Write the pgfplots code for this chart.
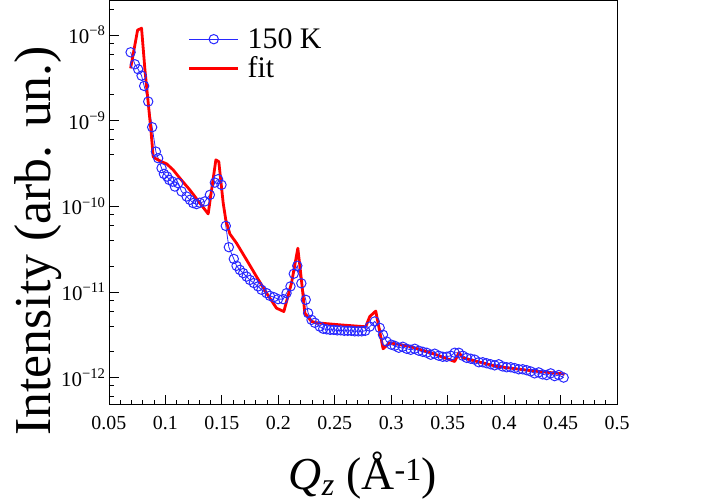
\documentclass[border=0pt]{standalone}
\usepackage{fontspec}
\setmainfont{Liberation Serif}
\usepackage{pgfplots}
\pgfplotsset{compat=1.18}

\definecolor{dblue}{RGB}{40,40,255}

\begin{document}
\begin{tikzpicture}
\path[use as bounding box] (-109bp,-97bp) rectangle (599.5bp,405bp);
\begin{axis}[
  scale only axis, width=508.5bp, height=405bp,
  ymode=log,
  xmin=0.05, xmax=0.5, ymin=4.82e-13, ymax=2.56e-8,
  xtick={0.05,0.1,0.15,0.2,0.25,0.3,0.35,0.4,0.45,0.5},
  xticklabels={0.05,0.1,0.15,0.2,0.25,0.3,0.35,0.4,0.45,0.5},
  minor x tick num=4,
  ytick={1e-12,1e-11,1e-10,1e-9,1e-8},
  yticklabels={10\textsuperscript{−12},10\textsuperscript{−11},10\textsuperscript{−10},10\textsuperscript{−9},10\textsuperscript{−8}},
  minor ytick={6e-13,8e-13,2e-12,4e-12,6e-12,8e-12,2e-11,4e-11,6e-11,8e-11,2e-10,4e-10,6e-10,8e-10,2e-9,4e-9,6e-9,8e-9,2e-8},
  xtick pos=bottom, ytick pos=left, tick align=inside,
  major tick length=10bp, minor tick length=5bp,
  axis line style={line width=0.8bp},
  every tick/.style={black, line width=0.8bp},
  xticklabel style={font=\fontsize{20}{23}\selectfont, anchor=base, yshift=-25bp},
  yticklabel style={font=\fontsize{21}{24}\selectfont},
  xlabel={{\itshape Q\textsubscript{z}} (Å\textsuperscript{-1})},
  ylabel={Intensity (arb. un.)},
  xlabel style={font=\fontsize{46}{50}\selectfont, at={(axis description cs:0.5,0)}, anchor=base, yshift=-85bp},
  ylabel style={font=\fontsize{52}{56}\selectfont, at={(axis description cs:-0.114,0.405)}, anchor=base},
  legend image code/.code={\draw[mark repeat=2,mark phase=2,#1] plot coordinates {(0bp,0bp) (24.5bp,0bp) (49bp,0bp)};},
  legend style={at={(rel axis cs:0.155,0.935)}, anchor=north west, draw=none, fill=none,
    font=\fontsize{30}{32}\selectfont, inner sep=0pt, row sep=3bp, column sep=6bp,
    nodes={inner sep=2bp}},
  legend cell align=left,
]
\addplot[dblue, line width=0.8bp, mark=o, mark size=4.7bp, mark options={line width=1bp}] coordinates {
(0.0692,6.28e-9) (0.0730,4.55e-9) (0.0759,3.98e-9) (0.0789,3.35e-9) (0.0812,2.54e-9)
(0.0848,1.67e-9) (0.0883,8.38e-10) (0.0916,4.35e-10) (0.0936,3.64e-10) (0.0966,2.79e-10)
(0.0987,2.39e-10) (0.1016,2.22e-10) (0.1034,2.03e-10) (0.1064,1.94e-10) (0.1084,1.70e-10)
(0.1113,1.86e-10) (0.1143,1.49e-10) (0.1188,1.30e-10) (0.1217,1.19e-10) (0.1246,1.09e-10)
(0.1276,1.06e-10) (0.1305,1.10e-10) (0.1350,1.14e-10) (0.1394,1.36e-10) (0.1438,1.89e-10)
(0.1467,2.07e-10) (0.1497,1.78e-10) (0.1535,5.90e-11) (0.1562,3.33e-11) (0.1606,2.43e-11)
(0.1630,2.02e-11) (0.1659,1.81e-11) (0.1689,1.66e-11) (0.1719,1.51e-11) (0.1748,1.38e-11)
(0.1783,1.27e-11) (0.1821,1.16e-11) (0.1851,1.06e-11) (0.1896,9.68e-12) (0.1925,9.01e-12)
(0.1960,8.69e-12) (0.1998,8.24e-12) (0.2043,8.24e-12) (0.2073,9.68e-12) (0.2108,1.16e-11)
(0.2137,1.63e-11) (0.2168,2.02e-11) (0.2204,1.26e-11) (0.2243,8.09e-12) (0.2264,5.66e-12)
(0.2294,4.72e-12) (0.2323,4.36e-12) (0.2367,3.94e-12) (0.2398,3.71e-12) (0.2429,3.66e-12)
(0.2460,3.61e-12) (0.2491,3.61e-12) (0.2522,3.56e-12) (0.2553,3.56e-12) (0.2584,3.52e-12)
(0.2615,3.52e-12) (0.2646,3.52e-12) (0.2677,3.47e-12) (0.2708,3.47e-12) (0.2739,3.47e-12)
(0.2770,3.52e-12) (0.2810,3.94e-12) (0.2854,4.52e-12) (0.2898,3.81e-12) (0.2927,3.16e-12)
(0.2958,2.64e-12) (0.3002,2.42e-12) (0.3031,2.35e-12) (0.3067,2.23e-12) (0.3102,2.29e-12)
(0.3137,2.17e-12) (0.3173,2.11e-12) (0.3208,2.17e-12) (0.3244,2.06e-12) (0.3279,2.00e-12)
(0.3314,1.95e-12) (0.3350,1.85e-12) (0.3385,1.90e-12) (0.3421,1.80e-12) (0.3456,1.75e-12)
(0.3491,1.75e-12) (0.3527,1.80e-12) (0.3562,1.95e-12) (0.3598,1.95e-12) (0.3633,1.80e-12)
(0.3668,1.70e-12) (0.3704,1.66e-12) (0.3739,1.62e-12) (0.3775,1.51e-12) (0.3810,1.51e-12)
(0.3845,1.47e-12) (0.3881,1.43e-12) (0.3916,1.39e-12) (0.3952,1.43e-12) (0.3987,1.35e-12)
(0.4022,1.32e-12) (0.4058,1.32e-12) (0.4093,1.29e-12) (0.4129,1.25e-12) (0.4164,1.25e-12)
(0.4199,1.22e-12) (0.4235,1.18e-12) (0.4270,1.12e-12) (0.4306,1.15e-12) (0.4341,1.09e-12)
(0.4376,1.07e-12) (0.4412,1.12e-12) (0.4447,1.04e-12) (0.4483,1.07e-12) (0.4527,1.00e-12)
};
\addlegendentry{150 K}
\addplot[red, line width=2.8bp, line join=round, no markers] coordinates {
(0.0692,4.08e-9) (0.0754,1.14e-8) (0.0789,1.20e-8) (0.0819,3.91e-9) (0.0848,1.61e-9)
(0.0872,7.78e-10) (0.0892,3.80e-10) (0.0907,3.64e-10) (0.0966,3.32e-10) (0.1011,3.13e-10)
(0.1069,2.66e-10) (0.1128,2.13e-10) (0.1217,1.55e-10) (0.1305,1.09e-10) (0.1379,8.15e-11)
(0.1447,3.48e-10) (0.1473,3.32e-10) (0.1512,1.09e-10) (0.1535,6.93e-11) (0.1571,4.76e-11)
(0.1630,3.71e-11) (0.1719,2.37e-11) (0.1807,1.51e-11) (0.1896,9.68e-12) (0.1984,6.47e-12)
(0.2049,5.90e-12) (0.2117,1.27e-11) (0.2173,3.24e-11) (0.2205,1.38e-11) (0.2235,5.66e-12)
(0.2294,4.52e-12) (0.2341,4.36e-12) (0.2544,4.13e-12) (0.2774,3.92e-12) (0.2810,5.16e-12)
(0.2863,5.98e-12) (0.2928,2.17e-12) (0.2987,2.55e-12) (0.3164,2.31e-12) (0.3341,1.97e-12)
(0.3562,1.54e-12) (0.3600,1.96e-12) (0.3633,1.70e-12) (0.3934,1.35e-12) (0.4226,1.21e-12)
(0.4536,1.10e-12)
};
\addlegendentry{fit}
\end{axis}
\end{tikzpicture}
\end{document}
